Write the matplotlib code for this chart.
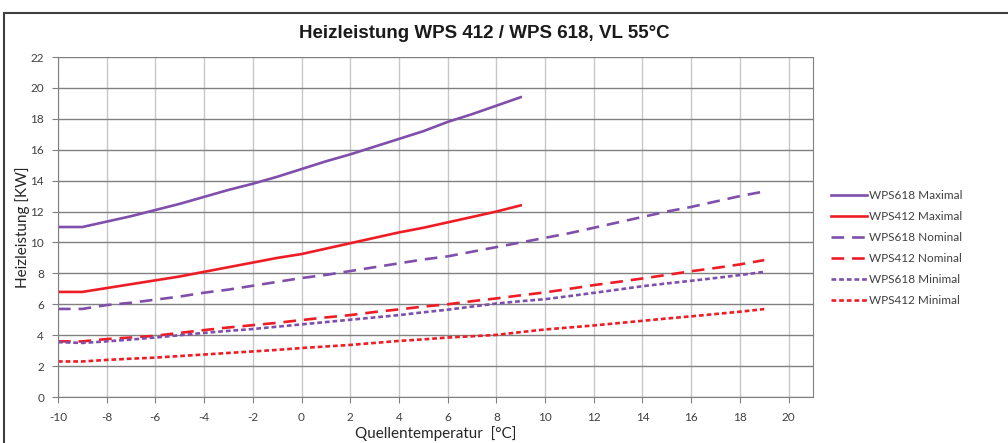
import numpy as np
import matplotlib.pyplot as plt
from matplotlib.patches import Rectangle

# Quellentemperatur [°C]
temp_short = list(range(-10, 10))   # Maximal-Kurven bis 9 °C
temp_long = list(range(-10, 20))    # Nominal / Minimal bis 19 °C

wps618_max = [11.0, 11.0, 11.35, 11.7, 12.1, 12.5, 12.95, 13.4, 13.8, 14.25,
              14.75, 15.25, 15.7, 16.2, 16.7, 17.2, 17.8, 18.3, 18.85, 19.4]
wps412_max = [6.8, 6.8, 7.05, 7.3, 7.55, 7.8, 8.1, 8.4, 8.7, 9.0,
              9.25, 9.6, 9.95, 10.3, 10.65, 10.95, 11.3, 11.65, 12.0, 12.4]
wps618_nom = [5.7, 5.7, 5.95, 6.1, 6.3, 6.5, 6.75, 6.95, 7.2, 7.45,
              7.7, 7.9, 8.15, 8.4, 8.65, 8.9, 9.1, 9.4, 9.7, 10.0,
              10.3, 10.6, 10.95, 11.3, 11.65, 12.0, 12.3, 12.65, 13.0, 13.3]
wps412_nom = [3.6, 3.6, 3.75, 3.85, 3.96, 4.15, 4.33, 4.5, 4.65, 4.8,
              4.98, 5.15, 5.3, 5.5, 5.67, 5.85, 6.0, 6.2, 6.38, 6.58,
              6.77, 7.0, 7.24, 7.45, 7.67, 7.9, 8.14, 8.35, 8.58, 8.86]
wps618_min = [3.55, 3.5, 3.6, 3.72, 3.85, 4.0, 4.15, 4.28, 4.4, 4.55,
              4.7, 4.85, 5.0, 5.15, 5.3, 5.48, 5.65, 5.85, 6.05, 6.2,
              6.33, 6.53, 6.74, 6.95, 7.17, 7.35, 7.52, 7.7, 7.89, 8.1]
wps412_min = [2.3, 2.3, 2.4, 2.48, 2.55, 2.65, 2.75, 2.85, 2.95, 3.05,
              3.17, 3.27, 3.37, 3.5, 3.63, 3.73, 3.85, 3.93, 4.02, 4.2,
              4.37, 4.5, 4.63, 4.78, 4.93, 5.08, 5.22, 5.37, 5.52, 5.69]

purple = '#7f4fab'
red = '#ee1c25'
plt.rcParams['font.family'] = ['Lato', 'DejaVu Sans']
plt.rcParams['axes.unicode_minus'] = False

fig = plt.figure(figsize=(10.08, 4.43), dpi=100)
ax = fig.add_axes([0.0575, 0.1038, 0.749, 0.7675])

# Rahmen um das ganze Diagramm
fig.patches.append(Rectangle((0.004, -0.05), 1.2, 1.0207,
                             transform=fig.transFigure, fill=False,
                             edgecolor='#3f3f3f', linewidth=1.5))

lw = 1.9
long_dash = (4.8, 3.0)
short_dash = (1.8, 1.1)
ax.plot(temp_short, wps618_max, color=purple, lw=lw, label='WPS618 Maximal')
ax.plot(temp_short, wps412_max, color=red, lw=lw, label='WPS412 Maximal')
ax.plot(temp_long, wps618_nom, color=purple, lw=lw, dashes=long_dash, label='WPS618 Nominal')
ax.plot(temp_long, wps412_nom, color=red, lw=lw, dashes=long_dash, label='WPS412 Nominal')
ax.plot(temp_long, wps618_min, color=purple, lw=lw, dashes=short_dash, label='WPS618 Minimal')
ax.plot(temp_long, wps412_min, color=red, lw=lw, dashes=short_dash, label='WPS412 Minimal')

ax.set_xlim(-10, 21)
ax.set_ylim(0, 22)
ax.set_xticks(range(-10, 21, 2))
ax.set_yticks(range(0, 23, 2))
ax.xaxis.grid(True, color='#c8c8c8', lw=1.0)
ax.yaxis.grid(True, color='#808080', lw=1.0)
ax.set_axisbelow(True)
for s in ['left', 'bottom', 'right']:
    ax.spines[s].set_color('#808080')
ax.spines['top'].set_visible(False)
ax.tick_params(axis='both', labelsize=8.5, colors='#808080', labelcolor='#404040',
               length=4, direction='out')
ax.tick_params(axis='y', pad=6)
ax.tick_params(axis='x', pad=7)

ax.set_xlabel('Quellentemperatur  [°C]', fontsize=11, color='#262626', labelpad=2)
ax.set_ylabel('Heizleistung [KW]', fontsize=11, color='#262626', labelpad=0)

fig.text(0.48, 0.925, 'Heizleistung WPS 412 / WPS 618, VL 55°C', ha='center', va='center',
         fontsize=13.5, fontweight='bold', family='Liberation Sans', color='#1a1a1a')

leg = ax.legend(loc='upper left', bbox_to_anchor=(1.01, 0.64), frameon=False,
                fontsize=8.5, handlelength=3.0, handletextpad=0.2, labelspacing=0.85)
for t in leg.get_texts():
    t.set_color('#404040')

fig.savefig('out.png', dpi=100)
